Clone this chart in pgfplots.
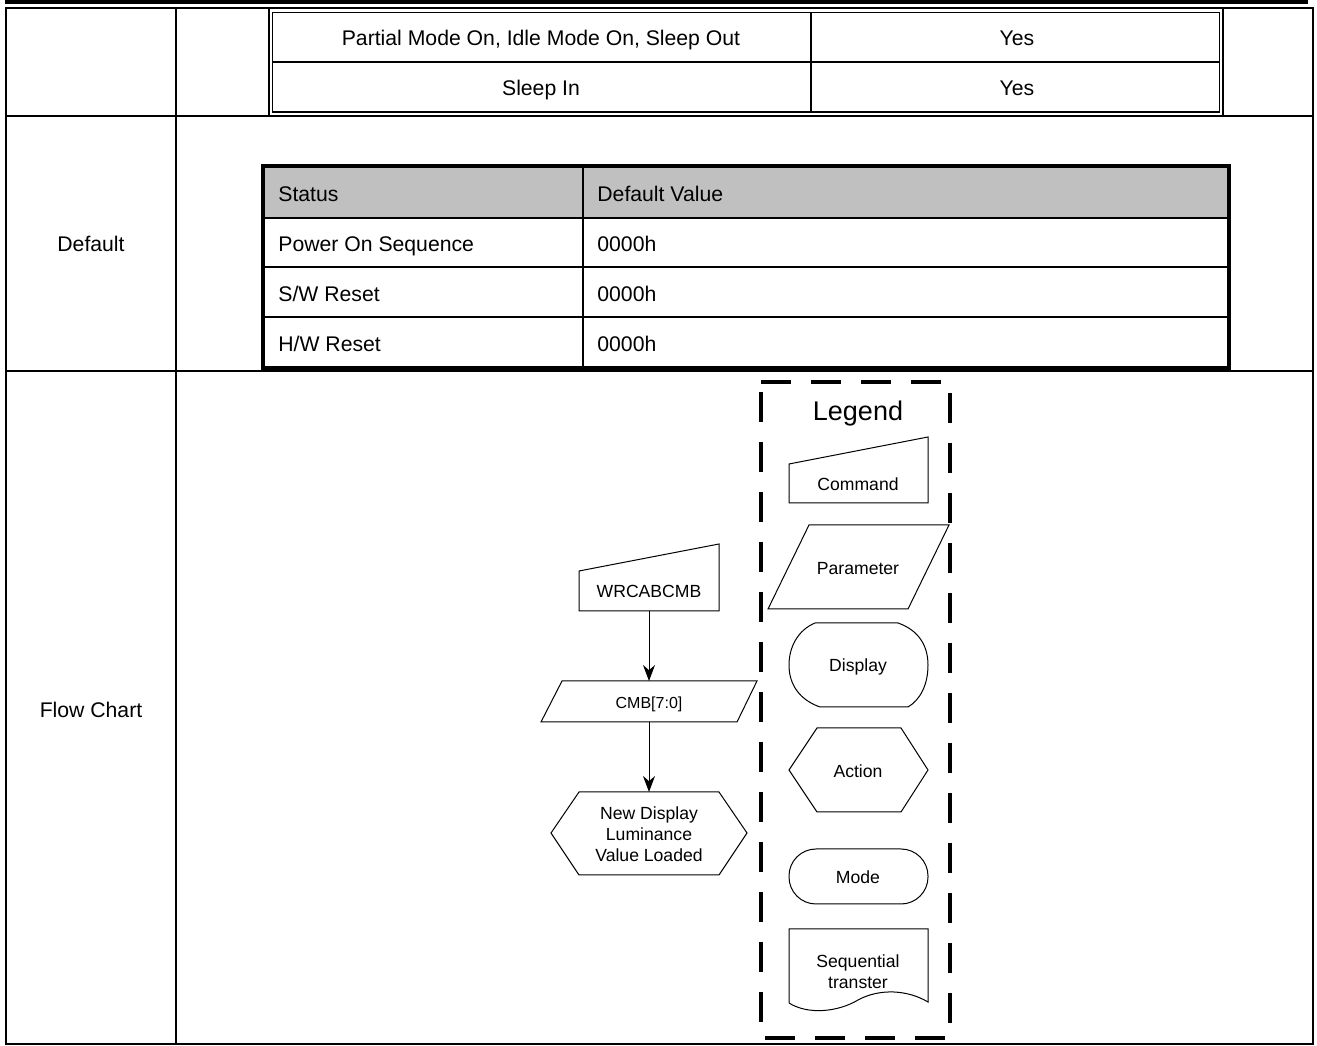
\documentclass[border=0pt]{standalone}
\usepackage{pgfplots}
\pgfplotsset{compat=1.18}
\usepackage{fontspec}
\setmainfont{Liberation Sans}
\usetikzlibrary{arrows.meta}
\definecolor{hdr}{HTML}{C0C0C0}
\newcommand\tf{\fontsize{10.6}{12}\selectfont}
\newcommand\ff{\fontsize{8.8}{10.5}\selectfont}
\tikzset{every node/.style={text height=0.716em, text depth=0pt, inner sep=0pt}}
\begin{document}
\begin{tikzpicture}
\begin{axis}[name=ax, width=658.5pt, height=523pt, scale only axis,
  xmin=0, xmax=1317, ymin=0, ymax=1046, y dir=reverse, hide axis, clip=false]
% top rule
\draw[line width=2pt] (5,2) -- (1308,2);
% outer table
\draw[line width=1pt] (6,8.5) rectangle (1312.5,1044.5);
\draw[line width=1pt] (6,116) -- (1312.5,116);
\draw[line width=1pt] (6,371.5) -- (1312.5,371.5);
\draw[line width=1pt] (176,8.5) -- (176,1044.5);
\draw[line width=1pt] (268.5,8.5) -- (268.5,116);
\draw[line width=1pt] (1223,8.5) -- (1223,116);
% inner table 1 (double border)
\draw[line width=0.9pt] (272.5,12.5) rectangle (1219.5,112);
\draw[line width=1pt] (272.5,62) -- (1219.5,62);
\draw[line width=1pt] (811,12.5) -- (811,112);
\node[font=\tf] at (541,38) {Partial Mode On, Idle Mode On, Sleep Out};
\node[font=\tf] at (1017,38) {Yes};
\node[font=\tf] at (541,88) {Sleep In};
\node[font=\tf] at (1017,88) {Yes};
% inner table 2
\fill[hdr] (262.5,166.5) rectangle (1228.5,218);
\draw[line width=1pt] (262.5,218) -- (1228.5,218);
\draw[line width=1pt] (262.5,267.5) -- (1228.5,267.5);
\draw[line width=1pt] (262.5,317.5) -- (1228.5,317.5);
\draw[line width=1pt] (583,166.5) -- (583,368);
\draw[line width=2pt] (262.5,166.5) rectangle (1228.5,368);
\node[font=\tf, anchor=west] at (278,194) {Status};
\node[font=\tf, anchor=west] at (597,194) {Default Value};
\node[font=\tf, anchor=west] at (278,244) {Power On Sequence};
\node[font=\tf, anchor=west] at (597,244) {0000h};
\node[font=\tf, anchor=west] at (278,294) {S/W Reset};
\node[font=\tf, anchor=west] at (597,294) {0000h};
\node[font=\tf, anchor=west] at (278,344) {H/W Reset};
\node[font=\tf, anchor=west] at (597,344) {0000h};
% row labels
\node[font=\tf] at (91,244) {Default};
\node[font=\tf] at (91,710) {Flow Chart};
% flow chart
\draw[line width=0.5pt] (579,611) -- (579,571) -- (719,544) -- (719,611) -- cycle;
\node[font=\ff] at (649,590) {WRCABCMB};
\draw[line width=0.5pt, -{Stealth[length=8pt,width=6pt]}] (649,611) -- (649,681);
\draw[line width=0.5pt] (562,681) -- (757,681) -- (737,722) -- (541,722) -- cycle;
\node[font=\fontsize{8}{9.5}\selectfont] at (649,701) {CMB[7:0]};
\draw[line width=0.5pt, -{Stealth[length=8pt,width=6pt]}] (649,722) -- (649,792);
\draw[line width=0.5pt] (551,833) -- (579,792) -- (719,792) -- (747,833) -- (719,875) -- (579,875) -- cycle;
\node[font=\ff] at (649,812) {New Display};
\node[font=\ff] at (649,833) {Luminance};
\node[font=\ff] at (649,854) {Value Loaded};
% legend box
\draw[line width=2pt, dash pattern=on 15pt off 10pt] (761,382) -- (950,382) -- (950,1038) -- (761,1038) -- cycle;
\node[font=\fontsize{13.5}{16}\selectfont] at (858,413) {Legend};
\draw[line width=0.5pt] (789,503) -- (789,464) -- (928,437) -- (928,503) -- cycle;
\node[font=\ff] at (858,483) {Command};
\draw[line width=0.5pt] (809,525) -- (949,525) -- (908,609) -- (768,609) -- cycle;
\node[font=\ff] at (858,567) {Parameter};
\draw[line width=0.5pt] (815,623) -- (898,623) .. controls (918,630) and (928,645) .. (928,665)
  .. controls (928,685) and (920,700) .. (908,707) -- (820,707)
  .. controls (800,700) and (789,685) .. (789,665) .. controls (789,647) and (798,630) .. (815,623);
\node[font=\ff] at (858,664) {Display};
\draw[line width=0.5pt] (789,770) -- (817,728) -- (901,728) -- (928,770) -- (901,812) -- (817,812) -- cycle;
\node[font=\ff] at (858,770) {Action};
\draw[line width=0.5pt, rounded corners=13.5pt] (789,849) rectangle (928,904);
\node[font=\ff] at (858,876) {Mode};
\draw[line width=0.5pt] (789,1003) -- (789,929) -- (928,929) -- (928,1002)
  .. controls (908,990) and (880,988) .. (858,1000) .. controls (838,1012) and (808,1015) .. (789,1003);
\node[font=\ff] at (858,960) {Sequential};
\node[font=\ff] at (858,981) {transter};
\end{axis}
\pgfresetboundingbox
\path[use as bounding box] (ax.south west) rectangle (ax.north east);
\end{tikzpicture}
\end{document}
